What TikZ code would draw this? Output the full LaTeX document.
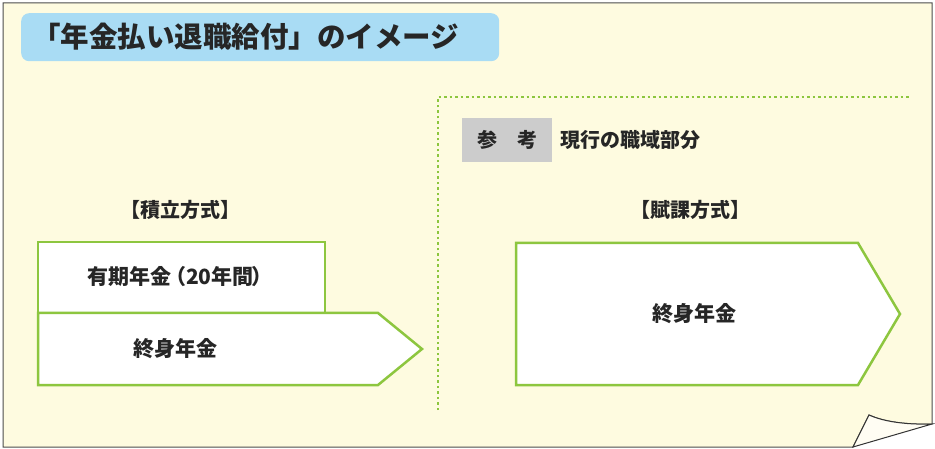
\documentclass[tikz,border=0pt]{standalone}
\usepackage{fontspec}
\setmainfont{Noto Sans CJK JP}
\begin{document}
\begin{tikzpicture}[x=1pt,y=-1pt,
  gbox/.style={draw=grn,line width=2.5pt,fill=white},
  lbl/.style={font=\bfseries\fontsize{20}{22}\selectfont,text=black!85}]
\definecolor{grn}{HTML}{8DC63F}
\definecolor{pap}{HTML}{FEFBE0}
\definecolor{ttl}{HTML}{A9DCF4}
\useasboundingbox (0,0) rectangle (935,449);
\fill[white] (0,0) rectangle (935,449);
\draw[draw=black!70,line width=1pt,fill=pap] (3,3) -- (932,3) -- (932,424) .. controls (900,425) and (880,420) .. (869,415) -- (853,447) -- (3,447) -- cycle;
\draw[black!80,line width=1pt,fill=pap!40!white] (853,447) -- (869,415) .. controls (880,420) and (900,425) .. (932,424) -- cycle;
\node[fill=ttl,rounded corners=8pt,minimum width=478pt,minimum height=48pt,anchor=north west] (title) at (21,13) {};
\node[anchor=west,font=\bfseries\fontsize{28.5}{30}\selectfont,text=black!85,inner sep=0pt] (tt) at (32,37) {「年金払い退職給付」のイメージ};
\draw[grn,line width=2pt,dash pattern=on 2.5pt off 3pt] (438,410) -- (438,97) -- (910,97);
\node[fill=black!20,minimum width=90pt,minimum height=44pt,anchor=north west,inner sep=0pt] (ref) at (462,118) {};
\node[lbl] (reft) at (ref.center) {参\hspace{1em}考};
\node[lbl,anchor=west] (cur) at (557,140) {現行の職域部分};
\node[lbl] (h1) at (180,210) {【積立方式】};
\node[lbl] (h2) at (690,210) {【賦課方式】};
\draw[gbox] (38,242) rectangle (325,313);
\node[lbl,font=\bfseries\fontsize{21}{22}\selectfont] (a) at (180,277) {有期年金\kern-0.3em（20年間\kern-0.1em）};
\draw[gbox] (38,313) -- (378,313) -- (422,349) -- (378,385) -- (38,385) -- cycle;
\node[lbl,font=\bfseries\fontsize{21}{22}\selectfont] (b) at (175,349) {終身年金};
\draw[gbox] (516,243) -- (858,243) -- (900,314) -- (858,385) -- (516,385) -- cycle;
\node[lbl,font=\bfseries\fontsize{21}{22}\selectfont] (c) at (694,314) {終身年金};
\end{tikzpicture}
\end{document}
